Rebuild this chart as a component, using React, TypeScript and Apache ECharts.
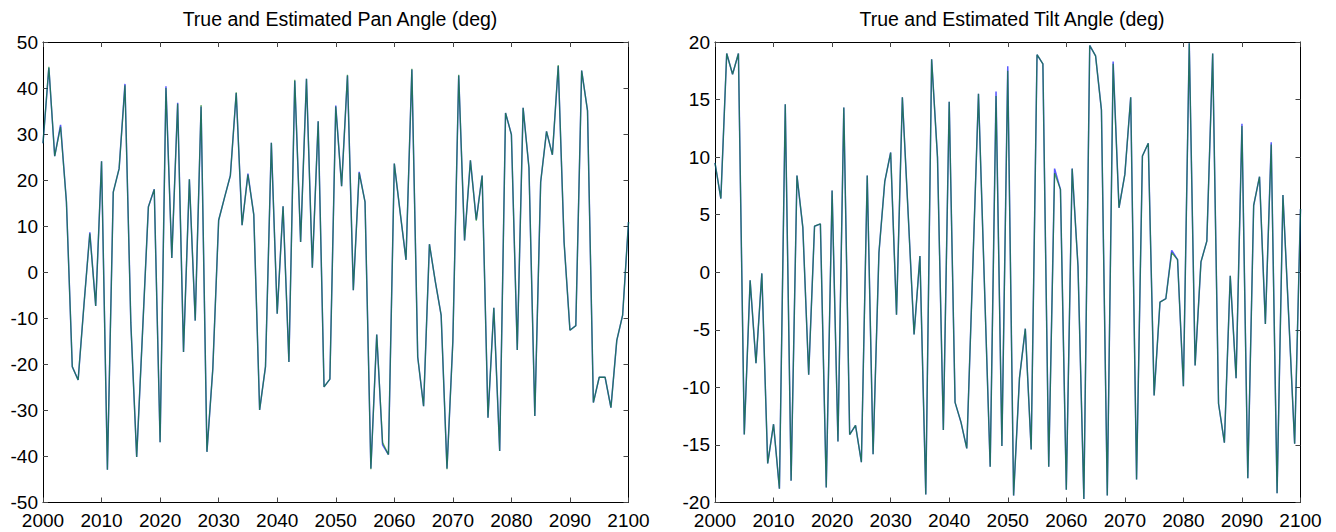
import React, { useEffect, useRef } from "react";
import * as echarts from "echarts";

const years: number[] = [];
for (let y = 2000; y <= 2100; y++) years.push(y);

const panTrue = [
  28, 44.4, 25.2, 32.0, 15.3, -20.5, -23.4, -7, 8.7, -7.3,
  24.1, -42.9, 17.4, 22.5, 40.9, -11, -40.1, -13, 14.2, 18.0,
  -36.9, 40.4, 3.1, 36.8, -17.3, 20.2, -10.5, 36.0, -39.0, -21,
  11.3, 16.2, 21.0, 38.9, 10.2, 21.4, 12.5, -29.9, -20.5, 28.1,
  -9.0, 14.3, -19.5, 41.6, 6.6, 42.0, 1.0, 32.8, -24.9, -23.2,
  36.2, 18.7, 42.7, -3.9, 21.8, 15.3, -42.6, -13.5, -37.5, -39.6,
  23.6, 13, 2.7, 44.0, -18.4, -29.1, 6.1, -2, -9.3, -42.6,
  -15, 42.7, 6.9, 24.3, 11.4, 21.0, -31.6, -7.7, -38.8, 34.6,
  29.9, -16.9, 35.7, 22.7, -31.2, 19.6, 30.6, 25.5, 44.8, 6.5,
  -12.6, -11.6, 43.8, 35.1, -28.3, -22.8, -22.8, -29.4, -14.8, -9.3,
  10.9,
];

const panEst = [
  28, 44.6, 25.2, 31.6, 15.3, -20.5, -23.4, -7, 8.4, -7.3,
  24.1, -42.9, 17.4, 22.5, 40.6, -11, -40.1, -13, 14.2, 18.0,
  -36.9, 40.0, 3.1, 36.6, -17.3, 20.2, -10.5, 36.3, -39.0, -21,
  11.3, 16.2, 21.0, 39.1, 10.2, 21.2, 12.5, -29.9, -20.5, 28.1,
  -9.0, 14.3, -19.5, 41.8, 6.6, 42.0, 1.0, 32.8, -24.9, -23.2,
  36.0, 18.7, 42.9, -3.9, 21.6, 15.3, -42.8, -13.5, -37.0, -39.6,
  23.6, 13, 2.7, 44.2, -18.4, -29.1, 6.1, -2, -9.3, -42.8,
  -15, 42.9, 6.9, 24.3, 11.2, 21.0, -31.6, -7.7, -38.8, 34.6,
  29.9, -16.9, 35.7, 22.7, -31.2, 19.6, 30.6, 25.5, 45.0, 6.5,
  -12.6, -11.6, 43.8, 35.1, -28.3, -22.8, -22.8, -29.4, -14.8, -9.3,
  10.9,
];

const tiltTrue = [
  9.5, 6.4, 19.0, 17.2, 19.0, -14.1, -0.7, -7.9, -0.1, -16.6,
  -13.2, -18.8, 14.6, -18.1, 8.4, 3.9, -8.9, 4.0, 4.2, -18.7,
  7.1, -14.7, 14.3, -14.1, -13.3, -16.5, 8.4, -15.8, 1.7, 7.9,
  10.4, -3.7, 15.2, 5, -5.4, 1.4, -19.3, 18.5, 10, -13.7,
  14.8, -11.3, -13.0, -15.3, 0, 15.5, -0.8, -16.9, 15.7, -15.1,
  17.9, -19.4, -9.2, -4.9, -15.4, 18.9, 18.1, -16.9, 9.0, 7.2,
  -18.9, 9.0, 0.5, -19.7, 19.7, 18.8, 14.1, -19.4, 18.3, 5.6,
  8.5, 15.2, -18.0, 10.1, 11.2, -10.7, -2.6, -2.3, 1.9, 1.1,
  -9.9, 19.9, -8.1, 0.9, 2.7, 19.0, -11.4, -14.8, -0.3, -9.2,
  12.9, -17.9, 5.8, 8.3, -4.5, 11.3, -19.2, 6.7, -4, -14.9,
  5.5,
];

const tiltEst = [
  9.5, 6.4, 19.0, 17.2, 19.0, -14.1, -0.7, -7.9, -0.1, -16.6,
  -13.2, -18.8, 14.6, -18.1, 8.4, 3.9, -8.9, 4.0, 4.2, -18.7,
  7.1, -14.7, 14.3, -14.1, -13.3, -16.5, 8.4, -15.8, 1.7, 7.9,
  10.4, -3.7, 15.2, 5, -5.4, 1.4, -19.3, 18.5, 10, -13.7,
  14.8, -11.3, -13.0, -15.3, 0, 15.5, -0.8, -16.9, 15.3, -15.1,
  17.5, -19.4, -9.2, -4.9, -15.4, 18.9, 18.1, -16.9, 8.6, 7.2,
  -18.9, 9.0, 0.5, -19.7, 19.7, 18.8, 14.1, -19.4, 18.1, 5.6,
  8.5, 15.2, -18.0, 10.1, 11.2, -10.7, -2.6, -2.3, 1.7, 1.1,
  -9.9, 19.9, -8.1, 0.9, 2.7, 19.0, -11.4, -14.8, -0.3, -9.2,
  12.7, -17.9, 5.8, 8.3, -4.5, 11.1, -19.2, 6.7, -4, -14.9,
  5.5,
];

const xTicks = { min: 2000, max: 2100, interval: 10 };
const panTicks = { min: -50, max: 50, interval: 10 };
const tiltTicks = { min: -20, max: 20, interval: 5 };

const titles = ["True and Estimated Pan Angle (deg)", "True and Estimated Tilt Angle (deg)"];

const FONT = "'Liberation Sans', Arial, Helvetica, sans-serif";

export default function App() {
  const ref = useRef<HTMLDivElement>(null);
  useEffect(() => {
    if (!ref.current) return;
    const chart = echarts.init(ref.current, null, { renderer: "svg" });

    const grids = [
      { left: 43, right: 1336 - 628.5, top: 42, bottom: 532 - 502.5 },
      { left: 715, right: 1336 - 1300.5, top: 42, bottom: 532 - 502.5 },
    ];

    const axisLine = { show: true, onZero: false, lineStyle: { color: "#000", width: 1 } };
    const tick = { show: true, inside: true, length: 5, lineStyle: { color: "#444", width: 1 } };
    const label = { color: "#000", fontSize: 19, fontFamily: FONT };

    const xAxis: any[] = [];
    const yAxis: any[] = [];
    const yRanges = [panTicks, tiltTicks];
    for (let g = 0; g < 2; g++) {
      xAxis.push({
        type: "value", gridIndex: g, position: "bottom", ...xTicks,
        axisLine, axisTick: tick, splitLine: { show: false },
        axisLabel: { ...label, margin: 8, formatter: (v: number) => String(v) },
      });
      xAxis.push({
        type: "value", gridIndex: g, position: "top", ...xTicks,
        axisLine, axisTick: tick, splitLine: { show: false },
        axisLabel: { show: false },
      });
      yAxis.push({
        type: "value", gridIndex: g, position: "left", ...yRanges[g],
        axisLine, axisTick: tick, splitLine: { show: false },
        axisLabel: { ...label, margin: 5, formatter: (v: number) => String(v) },
      });
      yAxis.push({
        type: "value", gridIndex: g, position: "right", ...yRanges[g],
        axisLine, axisTick: tick, splitLine: { show: false },
        axisLabel: { show: false },
      });
    }

    const mk = (vals: number[]) => years.map((y, i) => [y, vals[i]]);
    const line = (name: string, vals: number[], g: number, color: string, width: number, opacity: number) => ({
      name, type: "line", xAxisIndex: g * 2, yAxisIndex: g * 2, data: mk(vals),
      showSymbol: false, symbol: "none",
      lineStyle: { color, width, opacity },
    });

    chart.setOption({
      animation: false,
      backgroundColor: "#fff",
      title: titles.map((t, g) => ({
        text: t,
        left: g === 0 ? 335 : 1007,
        top: 4,
        textAlign: "center",
        textStyle: { color: "#000", fontSize: 19.5, fontWeight: "normal", fontFamily: FONT },
      })),
      grid: grids,
      xAxis,
      yAxis,
      series: [
        line("True Pan", panTrue, 0, "#0000ff", 1.5, 0.65),
        line("Estimated Pan", panEst, 0, "#008000", 1.3, 0.62),
        line("True Tilt", tiltTrue, 1, "#0000ff", 1.5, 0.65),
        line("Estimated Tilt", tiltEst, 1, "#008000", 1.3, 0.62),
      ],
    });
    return () => chart.dispose();
  }, []);
  return <div ref={ref} style={{ position: "fixed", left: 0, top: 0, width: 1336, height: 532 }} />;
}
